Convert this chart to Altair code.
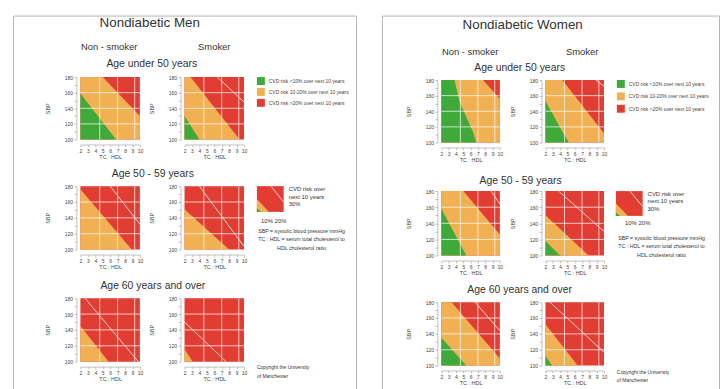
import altair as alt
import pandas as pd

FONT = "Liberation Sans"
H = 380

ZONES = ["CVD risk <10% over next 10 years",
         "CVD risk 10-20% over next 10 years",
         "CVD risk >20% over next 10 years"]
ZONE_COLORS = ["#3faa3a", "#f1b052", "#e23d33"]

TC_DOMAIN = [2, 10]
SBP_DOMAIN = [100, 180]
TC_TICKS = [2, 3, 4, 5, 6, 7, 8, 9, 10]
SBP_TICKS = [100, 110, 120, 130, 140, 150, 160, 170, 180]
TC_GRID = [4.6, 7.0, 9.3]
SBP_GRID = [120, 140, 160]

# Zone outlines (TC:HDL, SBP): amber = top edge of the amber zone, green = top edge of the green zone,
# line = white 30% contour
M_U50_NS_AMBER = [(2, 180), (5.0, 180), (10, 130)]
M_U50_NS_GREEN = [(2, 159), (6.8, 100), (10, 100)]
M_U50_NS_LINE = []
M_U50_S_AMBER = [(2, 180), (2.8, 180), (9.4, 100), (10, 100)]
M_U50_S_GREEN = [(2, 130), (4.0, 100), (10, 100)]
M_U50_S_LINE = [(6.4, 180), (10, 148)]
M_5059_NS_AMBER = [(2, 176), (8.9, 100), (10, 100)]
M_5059_NS_GREEN = []
M_5059_NS_LINE = [(6.0, 180), (10, 132)]
M_5059_S_AMBER = [(2, 151), (8.0, 100), (10, 100)]
M_5059_S_GREEN = []
M_5059_S_LINE = [(4.0, 180), (10, 104)]
M_60_NS_AMBER = [(2, 145), (5.8, 100), (10, 100)]
M_60_NS_GREEN = []
M_60_NS_LINE = [(2.6, 180), (9.8, 100)]
M_60_S_AMBER = [(2, 116), (3.1, 100), (10, 100)]
M_60_S_GREEN = []
M_60_S_LINE = [(2, 150), (7.6, 100)]

W_U50_NS_AMBER = [(2, 180), (7.7, 180), (10, 156)]
W_U50_NS_GREEN = [(2, 180), (3.8, 180), (4.5, 152), (6.3, 114), (6.8, 100), (10, 100)]
W_U50_NS_LINE = []
W_U50_S_AMBER = [(2, 180), (4.3, 180), (10, 112)]
W_U50_S_GREEN = [(2, 153), (4.3, 114), (5.2, 100), (10, 100)]
W_U50_S_LINE = [(8.9, 180), (10, 172)]
W_5059_NS_AMBER = [(2, 180), (5.0, 180), (10, 126)]
W_5059_NS_GREEN = [(2, 158), (5.4, 100), (10, 100)]
W_5059_NS_LINE = [(8.8, 180), (10, 164)]
W_5059_S_AMBER = [(2, 150), (7.9, 100), (10, 100)]
W_5059_S_GREEN = [(2, 118), (4.0, 100), (10, 100)]
W_5059_S_LINE = [(3.8, 180), (10, 130)]
W_60_NS_AMBER = [(2, 180), (3.4, 180), (10, 109)]
W_60_NS_GREEN = [(2, 135), (5.4, 100), (10, 100)]
W_60_NS_LINE = [(6.6, 180), (10, 144)]
W_60_S_AMBER = [(2, 152), (6.4, 100), (10, 100)]
W_60_S_GREEN = [(2, 112), (2.9, 100), (10, 100)]
W_60_S_LINE = [(2.6, 180), (10, 117)]

KEY_AMBER = [(2, 140), (5.6, 100), (10, 100)]
KEY_GREEN = [(2, 112), (3.2, 100), (10, 100)]
KEY_LINE = [(6.2, 180), (10, 130)]

COL_HEADS = ["Non - smoker", "Smoker"]
ROW_HEADS = ["Age under 50 years", "Age 50 - 59 years", "Age 60 years and over"]
KEY_TEXT = ["CVD risk over", "next 10 years", "30%"]
KEY_BELOW = "10%  20%"
NOTE = ["SBP = systolic blood pressure mmHg",
        "TC : HDL = serum total cholesterol to",
        "HDL cholesterol ratio"]
COPYRIGHT = ["Copyright the University", "of Manchester"]

TXT = "#333333"
AX = "#999999"


def zone_color(legend):
    return alt.Color("zone:N", scale=alt.Scale(domain=ZONES, range=ZONE_COLORS), legend=legend)


def panel(amber, green, line, xr, yr, legend, axes=True):
    xs = alt.Scale(domain=TC_DOMAIN, range=[xr[0], xr[1]], nice=False, zero=False)
    ys = alt.Scale(domain=SBP_DOMAIN, range=[yr[1], yr[0]], nice=False, zero=False)
    if axes:
        xa = alt.Axis(orient="bottom", offset=yr[1] + 5 - H, values=TC_TICKS, title="TC : HDL",
                      grid=False, labelFontSize=5, labelColor="#444", labelPadding=1.5,
                      labelFlush=False, labelOverlap=False, tickSize=2.5, tickColor=AX,
                      domainColor=AX, tickWidth=0.6, domainWidth=0.6, titleFontSize=5.5,
                      titleFontWeight="normal", titleColor="#444", titlePadding=1.5)
        ya = alt.Axis(orient="left", offset=4 - xr[0], values=SBP_TICKS,
                      labelExpr="datum.value % 20 === 0 ? datum.label : ''",
                      title="SBP", grid=False, labelFontSize=5, labelColor="#444",
                      labelPadding=1.5, labelFlush=False, labelOverlap=False, tickSize=2.5,
                      tickColor=AX, domainColor=AX, tickWidth=0.6, domainWidth=0.6,
                      titleFontSize=5.5, titleFontWeight="normal", titleColor="#444",
                      titlePadding=14)
    else:
        xa = None
        ya = None
    bg = pd.DataFrame({"x0": [TC_DOMAIN[0]], "x1": [TC_DOMAIN[1]],
                       "y0": [SBP_DOMAIN[0]], "y1": [SBP_DOMAIN[1]], "zone": [ZONES[2]]})
    layers = [alt.Chart(bg).mark_rect().encode(
        x=alt.X("x0:Q", scale=xs, axis=xa), x2=alt.X2("x1"),
        y=alt.Y("y0:Q", scale=ys, axis=ya), y2=alt.Y2("y1"),
        color=zone_color(legend))]
    for pts, z in ((amber, ZONES[1]), (green, ZONES[0])):
        if pts:
            df = pd.DataFrame(pts, columns=["tc", "sbp"])
            df["base"] = SBP_DOMAIN[0]
            df["zone"] = z
            layers.append(alt.Chart(df).mark_area(orient="vertical", interpolate="linear").encode(
                x=alt.X("tc:Q", scale=xs, axis=None),
                y=alt.Y("sbp:Q", scale=ys, axis=None, stack=None),
                y2=alt.Y2("base"),
                color=zone_color(legend)))
    if axes:
        gv = pd.DataFrame({"tc": TC_GRID, "lo": SBP_DOMAIN[0], "hi": SBP_DOMAIN[1]})
        layers.append(alt.Chart(gv).mark_rule(color="white", strokeWidth=0.9, opacity=0.8).encode(
            x=alt.X("tc:Q", scale=xs, axis=None),
            y=alt.Y("lo:Q", scale=ys, axis=None), y2=alt.Y2("hi")))
        gh = pd.DataFrame({"sbp": SBP_GRID, "lo": TC_DOMAIN[0], "hi": TC_DOMAIN[1]})
        layers.append(alt.Chart(gh).mark_rule(color="white", strokeWidth=0.9, opacity=0.8).encode(
            y=alt.Y("sbp:Q", scale=ys, axis=None),
            x=alt.X("lo:Q", scale=xs, axis=None), x2=alt.X2("hi")))
    if line:
        dl = pd.DataFrame(line, columns=["tc", "sbp"])
        layers.append(alt.Chart(dl).mark_line(color="white", strokeWidth=0.9, opacity=0.85).encode(
            x=alt.X("tc:Q", scale=xs, axis=None),
            y=alt.Y("sbp:Q", scale=ys, axis=None)))
    return layers


def txt(s, x, y, size, align="center", color=TXT):
    return alt.Chart(pd.DataFrame({"s": [s]})).mark_text(
        fontSize=size, align=align, baseline="middle", color=color, font=FONT
    ).encode(x=alt.value(x), y=alt.value(y), text="s:N")


def block(title, title_xy, heads_y, cols, rows, row_title_xy, panels, key_x, key_y,
          key_text_xy, key_below_xy, note_xy, copy_xy, legend_xy, row_pad, width):
    legend = alt.Legend(orient="none", legendX=legend_xy[0], legendY=legend_xy[1], title=None,
                        symbolType="square", symbolSize=64, symbolStrokeWidth=0,
                        labelFontSize=5, labelColor="#444", labelOffset=4, rowPadding=row_pad,
                        padding=0, labelLimit=300)
    layers = []
    for r in range(3):
        for c in range(2):
            amber, green, line = panels[r][c]
            layers += panel(amber, green, line, cols[c], rows[r], legend)
    layers += panel(KEY_AMBER, KEY_GREEN, KEY_LINE, key_x, key_y, legend, axes=False)
    layers.append(txt(title, title_xy[0], title_xy[1], 13.5))
    for c in range(2):
        layers.append(txt(COL_HEADS[c], heads_y[c][0], heads_y[c][1], 9.5))
    for r in range(3):
        layers.append(txt(ROW_HEADS[r], row_title_xy[r][0], row_title_xy[r][1], 10.5))
    for i, s in enumerate(KEY_TEXT):
        layers.append(txt(s, key_text_xy[0], key_text_xy[1] + i * 7.5, 6, align="left"))
    layers.append(txt(KEY_BELOW, key_below_xy[0], key_below_xy[1], 6))
    for i, s in enumerate(NOTE):
        layers.append(txt(s, note_xy[0], note_xy[1] + i * 8.5, 5.3))
    for i, s in enumerate(COPYRIGHT):
        layers.append(txt(s, copy_xy[0], copy_xy[1] + i * 9, 5, align="left"))
    return alt.layer(*layers).resolve_scale(x="independent", y="independent").resolve_axis(
        x="independent", y="independent").properties(width=width, height=H)


men = block(
    "Nondiabetic Men", (138, 8), [(97, 32), (203, 32)],
    [(68, 128), (173, 233)], [(62, 125), (172, 236), (285, 349)],
    [(140, 49), (141, 160), (141, 273)],
    [[(M_U50_NS_AMBER, M_U50_NS_GREEN, M_U50_NS_LINE), (M_U50_S_AMBER, M_U50_S_GREEN, M_U50_S_LINE)],
     [(M_5059_NS_AMBER, M_5059_NS_GREEN, M_5059_NS_LINE), (M_5059_S_AMBER, M_5059_S_GREEN, M_5059_S_LINE)],
     [(M_60_NS_AMBER, M_60_NS_GREEN, M_60_NS_LINE), (M_60_S_AMBER, M_60_S_GREEN, M_60_S_LINE)]],
    (246, 273), (172, 198), (278, 175), (263, 207), (291, 217), (246, 354),
    (246, 62), 3, 346)

women = block(
    "Nondiabetic Women", (142, 10), [(89, 37), (202, 37)],
    [(60, 119), (165, 224)], [(65, 128), (177, 242), (289, 353)],
    [(139, 53), (140, 167), (139, 277)],
    [[(W_U50_NS_AMBER, W_U50_NS_GREEN, W_U50_NS_LINE), (W_U50_S_AMBER, W_U50_S_GREEN, W_U50_S_LINE)],
     [(W_5059_NS_AMBER, W_5059_NS_GREEN, W_5059_NS_LINE), (W_5059_S_AMBER, W_5059_S_GREEN, W_5059_S_LINE)],
     [(W_60_NS_AMBER, W_60_NS_GREEN, W_60_NS_LINE), (W_60_S_AMBER, W_60_S_GREEN, W_60_S_LINE)]],
    (236, 263), (177, 202), (268, 180), (258, 209), (282, 224), (237, 359),
    (237, 65), 4.5, 340)

chart = alt.hconcat(men, women, spacing=24).resolve_scale(color="independent").properties(
    padding={"left": 4, "top": 5, "right": 0, "bottom": 0}
).configure(font=FONT).configure_view(stroke="#b4b4b4", strokeWidth=1)

chart.save("out.html", embed_options={"renderer": "svg", "actions": False})
